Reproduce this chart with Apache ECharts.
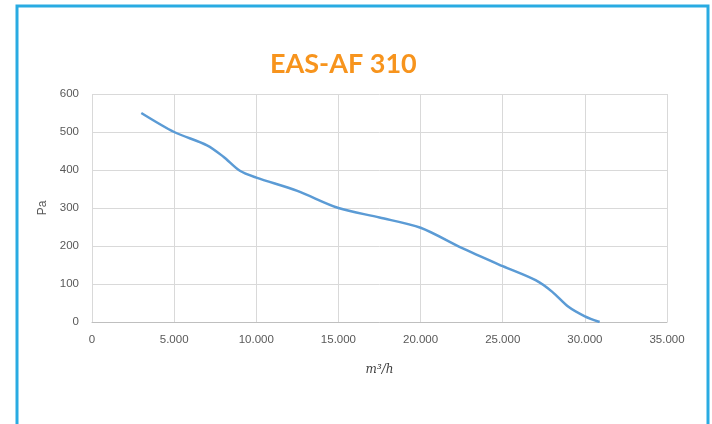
<!DOCTYPE html>
<html><head><meta charset="utf-8">
<script src="https://cdn.jsdelivr.net/npm/echarts@6/dist/echarts.min.js"></script>
<style>html,body{margin:0;padding:0;background:#fff}#c{width:712px;height:424px}</style>
</head><body><div id="c"></div>
<script>
const titleText = "EAS-AF 310";
const flow = [3000, 5000, 7000, 8000, 9000, 10000, 12500, 15000, 17500, 20000, 22500, 25000, 27000, 28000, 29000, 30000, 30900];
const pressure = [550, 500, 465, 435, 398, 380, 345, 300, 275, 248, 195, 147, 110, 80, 40, 15, 0];
const xTicks = [0, 5000, 10000, 15000, 20000, 25000, 30000, 35000];
const yTicks = [0, 100, 200, 300, 400, 500, 600];

const chart = echarts.init(document.getElementById('c'));
chart.setOption({
  animation: false,
  backgroundColor: '#fff',
  title: {
    text: titleText, left: 265, top: 46,
    textStyle: { color: '#f7941d', fontFamily: 'Lato', fontWeight: 'bold', fontSize: 27 }
  },
  graphic: [{
    type: 'rect', shape: { x: 17, y: 6, width: 691, height: 440 },
    style: { fill: 'none', stroke: '#29abe2', lineWidth: 3 }
  }],
  grid: { left: 92, right: 45, top: 94, bottom: 102 },
  xAxis: {
    type: 'value', min: xTicks[0], max: xTicks[xTicks.length - 1], interval: 5000,
    name: 'm³/h', nameLocation: 'middle', nameGap: 42,
    nameTextStyle: { fontFamily: 'DejaVu Serif', fontStyle: 'italic', fontSize: 12, color: '#404040' },
    axisLine: { show: true, lineStyle: { color: '#bfbfbf' } },
    axisTick: { show: false },
    axisLabel: { color: '#595959', fontSize: 11.5, fontFamily: 'Liberation Sans', margin: 12,
      formatter: v => v === 0 ? '0' : (v / 1000) + '.000' },
    splitLine: { show: true, lineStyle: { color: '#d9d9d9' } }
  },
  yAxis: {
    type: 'value', min: yTicks[0], max: yTicks[yTicks.length - 1], interval: 100,
    name: 'Pa', nameLocation: 'middle', nameGap: 40, nameRotate: 90,
    nameTextStyle: { color: '#595959', fontSize: 12, fontFamily: 'Liberation Sans' },
    axisLine: { show: false }, axisTick: { show: false },
    axisLabel: { color: '#595959', fontSize: 11.5, fontFamily: 'Liberation Sans', margin: 13 },
    splitLine: { show: true, lineStyle: { color: '#d9d9d9' } }
  },
  series: [{
    type: 'line', data: flow.map((x, i) => [x, pressure[i]]),
    smooth: 0.3, showSymbol: false,
    lineStyle: { color: '#5b9bd5', width: 2.5 }
  }]
});
</script></body></html>
